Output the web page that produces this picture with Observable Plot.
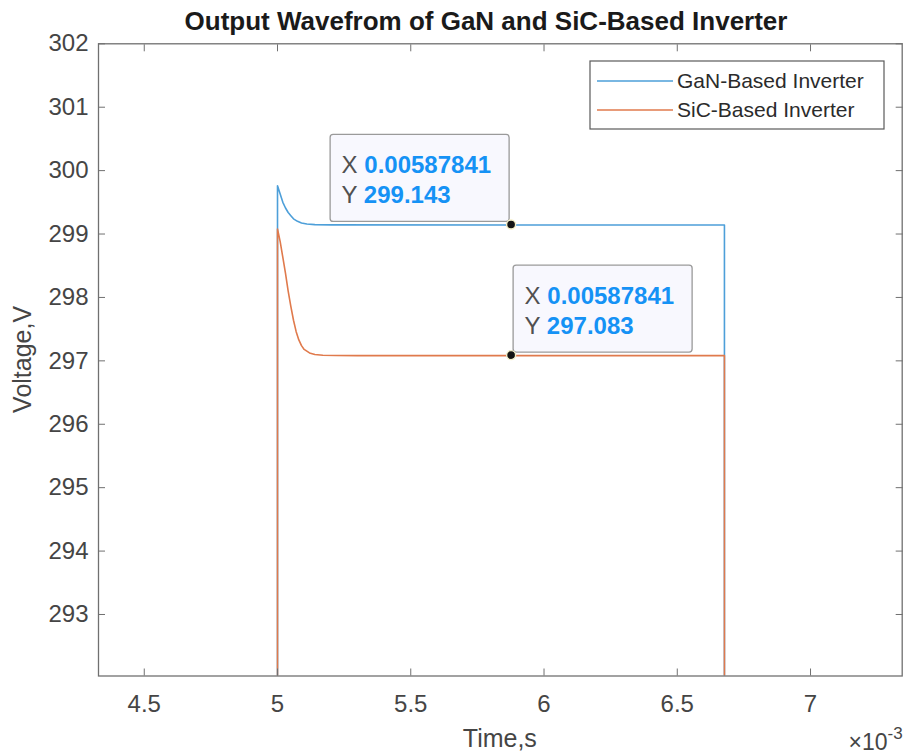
<!DOCTYPE html>
<html>
<head>
<meta charset="utf-8">
<script src="https://cdn.jsdelivr.net/npm/d3@7"></script>
<script src="https://cdn.jsdelivr.net/npm/@observablehq/plot@0.6"></script>
<style>
  body { margin: 0; background: #fff; font-family: "Liberation Sans", Arial, sans-serif; }
  #page { position: relative; width: 906px; height: 754px; overflow: hidden; }
  #title { position: relative; height: 30px; }
  #title span { position: absolute; left: 486px; top: 8px; transform: translateX(-50%);
    font-size: 26px; line-height: 26px; font-weight: bold; color: #1a1a1a; white-space: nowrap; }
</style>
</head>
<body>
<div id="page">
  <div id="title"><span>Output Wavefrom of GaN and SiC-Based Inverter</span></div>
  <div id="chart"></div>
</div>
<script>
// Inverter output voltage traces (time in seconds, voltage in volts)
const timeGaN = [0.005, 0.005, 0.00501, 0.00502, 0.00503, 0.00504, 0.00505, 0.00506, 0.005075, 0.00509,
  0.00511, 0.00514, 0.0052, 0.00587841, 0.006677, 0.006677];
const voltGaN = [0, 299.76, 299.63, 299.50, 299.41, 299.34, 299.29, 299.24, 299.20, 299.175,
  299.158, 299.148, 299.144, 299.143, 299.143, 0];

const timeSiC = [0.005, 0.005, 0.00501, 0.00502, 0.00503, 0.00504, 0.00505, 0.00506, 0.00507, 0.00508,
  0.00509, 0.0051, 0.00512, 0.00514, 0.00517, 0.00522, 0.0053, 0.00587841, 0.006677, 0.006677];
const voltSiC = [0, 299.08, 298.88, 298.63, 298.38, 298.10, 297.86, 297.64, 297.46, 297.33,
  297.24, 297.18, 297.125, 297.10, 297.088, 297.084, 297.083, 297.083, 297.083, 0];

const seriesNames = ["GaN-Based Inverter", "SiC-Based Inverter"];
const seriesColors = ["#4d9fd9", "#e07a4c"];

// Data tips
const tipTime = [0.00587841, 0.00587841];
const tipVolt = [299.143, 297.083];
const tipSide = ["left", "right"];

// Axes
const xDomain = [0.0043283, 0.007344];
const yDomain = [292.03, 302];
const xTicks = [0.0045, 0.005, 0.0055, 0.006, 0.0065, 0.007];
const xTickLabels = ["4.5", "5", "5.5", "6", "6.5", "7"];
const yTicks = [293, 294, 295, 296, 297, 298, 299, 300, 301, 302];

const gan = timeGaN.map((t, i) => ({t, v: voltGaN[i]}));
const sic = timeSiC.map((t, i) => ({t, v: voltSiC[i]}));

const axisGray = "#707070";
const textGray = "#454545";
const fontFamily = "Liberation Sans, Arial, sans-serif";
const xLabel = d => xTickLabels[xTicks.indexOf(d)];

const plot = Plot.plot({
  width: 906,
  height: 724,
  marginTop: 13.3,
  marginRight: 4.3,
  marginBottom: 78.5,
  marginLeft: 98,
  style: {fontFamily, fontSize: "24px", color: textGray, background: "#fff", overflow: "visible"},
  x: {domain: xDomain, label: null},
  y: {domain: yDomain, label: null},
  marks: [
    Plot.line(gan, {x: "t", y: "v", stroke: seriesColors[0], strokeWidth: 1.6, clip: true}),
    Plot.line(sic, {x: "t", y: "v", stroke: seriesColors[1], strokeWidth: 1.6, clip: true}),
    Plot.frame({stroke: axisGray, strokeWidth: 1.3}),
    Plot.axisX(xTicks, {anchor: "bottom", tickSize: -7, tickPadding: 26, tickFormat: xLabel,
      stroke: axisGray, fill: textGray, label: null}),
    Plot.axisX(xTicks, {anchor: "top", tickSize: -7, tickFormat: () => "", stroke: axisGray, label: null}),
    Plot.axisY(yTicks, {anchor: "left", tickSize: -7, tickPadding: 17, tickFormat: d => String(d),
      stroke: axisGray, fill: textGray, label: null}),
    Plot.axisY(yTicks, {anchor: "right", tickSize: -7, tickFormat: () => "", stroke: axisGray, label: null})
  ]
});

document.getElementById("chart").appendChild(plot);

const svg = d3.select(plot);
const sx = plot.scale("x").apply;
const sy = plot.scale("y").apply;
const frameLeft = 98, frameRight = 906 - 4.3, frameTop = 13.3, frameBottom = 724 - 78.5;

// Axis titles
svg.append("text")
  .attr("x", (frameLeft + frameRight) / 2).attr("y", 717)
  .attr("text-anchor", "middle").attr("font-size", 25).attr("fill", textGray)
  .text("Time,s");

svg.append("text")
  .attr("transform", `translate(31,${(frameTop + frameBottom) / 2}) rotate(-90)`)
  .attr("text-anchor", "middle").attr("font-size", 25).attr("fill", textGray)
  .text("Voltage,V");

// Exponent of the time axis
const expo = svg.append("text")
  .attr("x", frameRight + 1).attr("y", 720)
  .attr("text-anchor", "end").attr("font-size", 23).attr("fill", textGray);
expo.append("tspan").text("×10");
expo.append("tspan").attr("dy", -11).attr("font-size", 17).text("-3");

// Legend
const legend = svg.append("g").attr("transform", "translate(590,31)");
legend.append("rect").attr("width", 294).attr("height", 68)
  .attr("fill", "#fff").attr("stroke", "#5a5a5a").attr("stroke-width", 1.2);
seriesNames.forEach((name, i) => {
  const yy = 20 + i * 29;
  legend.append("line").attr("x1", 7).attr("x2", 83).attr("y1", yy).attr("y2", yy)
    .attr("stroke", seriesColors[i]).attr("stroke-width", 1.6);
  legend.append("text").attr("x", 87).attr("y", yy).attr("dy", "0.35em")
    .attr("text-anchor", "start").attr("font-size", 21).attr("fill", "#2b2b2b").text(name);
});

// Data tips: marker plus a boxed readout
const boxW = 179, boxH = 87;
tipTime.forEach((t, i) => {
  const px = sx(t), py = sy(tipVolt[i]);
  const left = tipSide[i] === "left" ? px - boxW - 2 : px + 2;
  const top = py - boxH - 3;
  const g = svg.append("g");
  g.append("rect").attr("x", left).attr("y", top).attr("width", boxW).attr("height", boxH)
    .attr("rx", 3).attr("fill", "#f8f8fe").attr("stroke", "#9a9a9a").attr("stroke-width", 1.3);
  const rows = [["X", String(t)], ["Y", d3.format(".3f")(tipVolt[i])]];
  rows.forEach(([k, val], r) => {
    const tx = g.append("text").attr("x", left + 11.5).attr("y", top + 39 + r * 29.5)
      .attr("text-anchor", "start").attr("font-size", 24);
    tx.append("tspan").attr("fill", "#505050").text(k + " ");
    tx.append("tspan").attr("fill", "#1592f5").attr("font-weight", "bold").text(val);
  });
  g.append("circle").attr("cx", px).attr("cy", py).attr("r", 4.5)
    .attr("fill", "#141414").attr("stroke", "#f4efc8").attr("stroke-width", 1.4);
});
</script>
</body>
</html>
